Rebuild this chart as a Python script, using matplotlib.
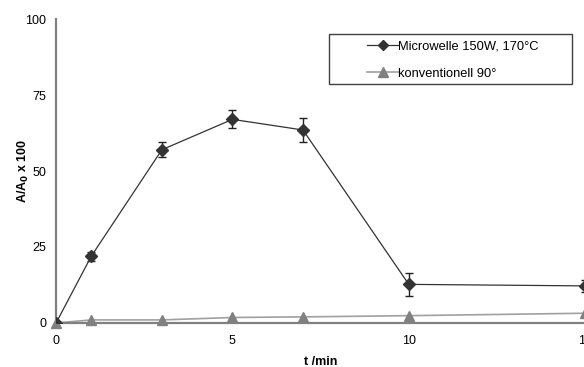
import matplotlib
matplotlib.use("Agg")
import matplotlib.pyplot as plt
from matplotlib.patches import Rectangle

plt.rcParams['font.family'] = ['Liberation Sans', 'DejaVu Sans']

t = [0, 1, 3, 5, 7, 10, 15]
microwave = [0, 22, 57, 67, 63.5, 12.7, 12.2]
microwave_err = [0, 1.5, 2.5, 3.0, 4.0, 3.8, 2.0]
conventional = [0, 1.0, 1.0, 1.8, 2.0, 2.4, 3.2]
xticks = [0, 5, 10, 15]
yticks = [0, 25, 50, 75, 100]

fig = plt.figure(figsize=(5.84, 3.67), dpi=100)
ax = fig.add_axes([0.096, 0.120, 0.906, 0.828])

eb = ax.errorbar(t, microwave, yerr=microwave_err, color='#333333', lw=0.9,
                 marker='D', markersize=6.5, markerfacecolor='#333333', markeredgecolor='#333333',
                 ecolor='#222222', elinewidth=1.0, capsize=3, capthick=1.0,
                 label='Microwelle 150W, 170°C', zorder=3)
ln, = ax.plot(t, conventional, color='#a0a0a0', lw=1.2, marker='^', markersize=7,
              markerfacecolor='#808080', markeredgecolor='#808080',
              label='konventionell 90°', zorder=2, clip_on=False)

ax.set_xlim(0, 15)
ax.set_ylim(0, 100)
ax.set_xticks(xticks)
ax.set_yticks(yticks)
ax.tick_params(axis='x', length=0, labelsize=9, pad=9)
ax.tick_params(axis='y', length=0, labelsize=9, pad=7)
for s in ['top', 'right']:
    ax.spines[s].set_visible(False)
for s in ['left', 'bottom']:
    ax.spines[s].set_color('#808080')
    ax.spines[s].set_linewidth(1.6)

ax.set_xlabel('t /min', fontsize=9, fontweight='bold', labelpad=6)
ax.set_ylabel('A/A$_\\mathbf{0}$ x 100', fontsize=9, fontweight='bold', labelpad=-4)

h_mw = ax.plot([], [], color='#333333', lw=0.9, marker='D', markersize=5,
               markerfacecolor='#333333', markeredgecolor='#333333')[0]
h_cv = ax.plot([], [], color='#a0a0a0', lw=1.2, marker='^', markersize=7,
               markerfacecolor='#808080', markeredgecolor='#808080')[0]
leg = fig.legend([h_mw, h_cv], ['Microwelle 150W, 170°C', 'konventionell 90°'],
                 loc='upper left', bbox_to_anchor=(0.629, 0.889), fontsize=9.3,
                 frameon=False, borderpad=0, labelspacing=1.16, handlelength=2.35,
                 handletextpad=0.05, borderaxespad=0)

fig.patches.append(Rectangle((0.5634, 0.771), 0.416, 0.136, transform=fig.transFigure,
                             facecolor='none', edgecolor='#404040', lw=1.0))

fig.savefig('out.png', dpi=100)
